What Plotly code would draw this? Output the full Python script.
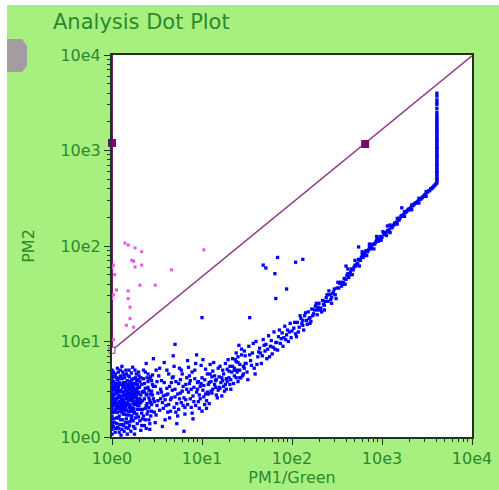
import numpy as np
import plotly.graph_objects as go

# ---------------- data (values are log10 of the measured quantities) ----------------
x_tick_vals = [1, 10, 100, 1000, 10000]
x_tick_text = ["10e0", "10e1", "10e2", "10e3", "10e4"]
y_tick_vals = [1, 10, 100, 1000, 10000]
y_tick_text = ["10e0", "10e1", "10e2", "10e3", "10e4"]

# dense population near the origin (log10 PM1, log10 PM2)
edge_col_log_y = [0.03, 0.08, 0.12, 0.15, 0.19, 0.22, 0.26, 0.29, 0.31, 0.34, 0.37, 0.40,
                  0.43, 0.45, 0.48, 0.51, 0.53, 0.56, 0.58, 0.61, 0.64, 0.67, 0.70]
core_pts = [
    (0.03, 0.45), (0.05, 0.52), (0.02, 0.33), (0.07, 0.41), (0.04, 0.28), (0.09, 0.36), (0.06, 0.60),
    (0.11, 0.48), (0.08, 0.22), (0.13, 0.39), (0.10, 0.55), (0.12, 0.30), (0.15, 0.44), (0.14, 0.62),
    (0.17, 0.35), (0.16, 0.51), (0.19, 0.42), (0.18, 0.27), (0.21, 0.47), (0.20, 0.58), (0.23, 0.38),
    (0.22, 0.31), (0.25, 0.50), (0.24, 0.43), (0.27, 0.36), (0.26, 0.56), (0.29, 0.45), (0.28, 0.29),
    (0.03, 0.15), (0.06, 0.10), (0.05, 0.20), (0.09, 0.13), (0.08, 0.05), (0.12, 0.18), (0.11, 0.08),
    (0.14, 0.24), (0.13, 0.12), (0.16, 0.19), (0.18, 0.09), (0.20, 0.16), (0.22, 0.22), (0.24, 0.11),
    (0.26, 0.20), (0.28, 0.14), (0.21, 0.06), (0.25, 0.03), (0.17, 0.03), (0.10, 0.02),
    (0.02, 0.58), (0.04, 0.66), (0.07, 0.53), (0.09, 0.63), (0.12, 0.68), (0.15, 0.57), (0.18, 0.64),
    (0.21, 0.53), (0.24, 0.61), (0.27, 0.66), (0.19, 0.70), (0.11, 0.74), (0.06, 0.72), (0.23, 0.73),
    (0.04, 0.38), (0.07, 0.30), (0.10, 0.42), (0.13, 0.47), (0.16, 0.40), (0.19, 0.50), (0.22, 0.45),
    (0.25, 0.34), (0.28, 0.40), (0.03, 0.26), (0.06, 0.47), (0.09, 0.49), (0.12, 0.36), (0.15, 0.32),
    (0.18, 0.46), (0.21, 0.39), (0.24, 0.52), (0.27, 0.48), (0.14, 0.52), (0.17, 0.59), (0.08, 0.44),
    (0.11, 0.26), (0.05, 0.40), (0.20, 0.34), (0.23, 0.27), (0.26, 0.41), (0.16, 0.28), (0.10, 0.33),
    (0.13, 0.57), (0.19, 0.55), (0.07, 0.49), (0.02, 0.50), (0.04, 0.56), (0.29, 0.52), (0.30, 0.33),
    (0.31, 0.58), (0.32, 0.44), (0.33, 0.25), (0.32, 0.07), (0.31, 0.17), (0.30, 0.64),
]
core_pts_2 = [
    (0.01, 0.41), (0.02, 0.19), (0.03, 0.63), (0.04, 0.09), (0.05, 0.35), (0.06, 0.26), (0.07, 0.68),
    (0.08, 0.57), (0.09, 0.27), (0.10, 0.64), (0.11, 0.38), (0.12, 0.52), (0.13, 0.28), (0.14, 0.43),
    (0.15, 0.15), (0.16, 0.66), (0.17, 0.47), (0.18, 0.38), (0.19, 0.23), (0.20, 0.45), (0.21, 0.29),
    (0.22, 0.60), (0.23, 0.49), (0.24, 0.35), (0.25, 0.26), (0.26, 0.62), (0.27, 0.42), (0.28, 0.51),
    (0.29, 0.36), (0.30, 0.47), (0.01, 0.26), (0.02, 0.44), (0.03, 0.36), (0.04, 0.49), (0.05, 0.62),
    (0.06, 0.33), (0.07, 0.20), (0.08, 0.37), (0.09, 0.56), (0.10, 0.48), (0.11, 0.61), (0.12, 0.43),
    (0.13, 0.33), (0.14, 0.36), (0.15, 0.49), (0.16, 0.35), (0.17, 0.42), (0.18, 0.55), (0.19, 0.31),
    (0.20, 0.41), (0.21, 0.58), (0.22, 0.38), (0.23, 0.44), (0.24, 0.30), (0.25, 0.45), (0.26, 0.34),
    (0.27, 0.55), (0.28, 0.46), (0.29, 0.60), (0.30, 0.39), (0.015, 0.11), (0.035, 0.05), (0.055, 0.14),
    (0.075, 0.09), (0.095, 0.18), (0.115, 0.13), (0.135, 0.06), (0.155, 0.10), (0.175, 0.15),
    (0.195, 0.12), (0.215, 0.19), (0.235, 0.17), (0.255, 0.09), (0.275, 0.24), (0.295, 0.21),
    (0.015, 0.68), (0.035, 0.52), (0.055, 0.56), (0.075, 0.61), (0.095, 0.70), (0.115, 0.55),
    (0.135, 0.65), (0.155, 0.70), (0.175, 0.52), (0.195, 0.63), (0.215, 0.67), (0.235, 0.56),
    (0.255, 0.70), (0.275, 0.59), (0.295, 0.68), (0.025, 0.40), (0.045, 0.31), (0.065, 0.42),
    (0.085, 0.32), (0.105, 0.39), (0.125, 0.46), (0.145, 0.30), (0.165, 0.45), (0.185, 0.34),
    (0.205, 0.51), (0.225, 0.41), (0.245, 0.47), (0.265, 0.37), (0.285, 0.33), (0.305, 0.52),
    (0.025, 0.53), (0.045, 0.46), (0.065, 0.51), (0.085, 0.48), (0.105, 0.29), (0.125, 0.24),
    (0.145, 0.55), (0.165, 0.23), (0.185, 0.50), (0.205, 0.27), (0.225, 0.55), (0.245, 0.25),
    (0.265, 0.46), (0.285, 0.55), (0.305, 0.29),
]
core_fringe = [
    (0.32, 0.36), (0.33, 0.55), (0.34, 0.29), (0.34, 0.47), (0.35, 0.61), (0.36, 0.40), (0.37, 0.18),
    (0.37, 0.51), (0.38, 0.33), (0.39, 0.45), (0.40, 0.58), (0.41, 0.31), (0.41, 0.49), (0.42, 0.38),
    (0.43, 0.63), (0.44, 0.27), (0.45, 0.44), (0.46, 0.53), (0.33, 0.12), (0.35, 0.70), (0.38, 0.09),
    (0.40, 0.66), (0.42, 0.14), (0.44, 0.59), (0.36, 0.47), (0.39, 0.24), (0.43, 0.36), (0.31, 0.40),
    (0.32, 0.62), (0.34, 0.19),
]
spread_pts = [
    (0.35, 0.48), (0.37, 0.30), (0.39, 0.62), (0.41, 0.41), (0.43, 0.22), (0.45, 0.55), (0.47, 0.37),
    (0.49, 0.70), (0.51, 0.46), (0.53, 0.28), (0.55, 0.59), (0.57, 0.43), (0.59, 0.18), (0.61, 0.51),
    (0.63, 0.66), (0.65, 0.39), (0.67, 0.49), (0.69, 0.31), (0.71, 0.58), (0.73, 0.45), (0.75, 0.72),
    (0.77, 0.36), (0.79, 0.53), (0.81, 0.24), (0.83, 0.62), (0.85, 0.47), (0.87, 0.40), (0.89, 0.68),
    (0.91, 0.52), (0.93, 0.33), (0.95, 0.57), (0.97, 0.44), (0.99, 0.75), (1.01, 0.49), (1.03, 0.60),
    (1.05, 0.38), (1.07, 0.55), (1.09, 0.66), (1.11, 0.46), (1.13, 0.78), (1.15, 0.52), (1.17, 0.41),
    (1.19, 0.63), (1.21, 0.57), (1.23, 0.70), (1.25, 0.48), (1.27, 0.61), (1.29, 0.81), (1.31, 0.55),
    (1.33, 0.68), (0.36, 0.12), (0.42, 0.08), (0.48, 0.15), (0.56, 0.11), (0.64, 0.20), (0.72, 0.14),
    (0.80, 0.06), (0.90, 0.19), (1.00, 0.27), (0.38, 0.77), (0.46, 0.82), (0.58, 0.78), (0.68, 0.85),
    (0.84, 0.80), (0.94, 0.86), (0.40, 0.52), (0.44, 0.34), (0.50, 0.58), (0.54, 0.40), (0.60, 0.33),
    (0.62, 0.45), (0.66, 0.57), (0.70, 0.42), (0.74, 0.29), (0.76, 0.60), (0.78, 0.48), (0.82, 0.39),
    (0.86, 0.56), (0.88, 0.31), (0.92, 0.61), (0.96, 0.37), (0.98, 0.53), (1.02, 0.42), (1.04, 0.71),
    (1.06, 0.47), (1.08, 0.35), (1.10, 0.58), (1.12, 0.50), (1.14, 0.64), (1.16, 0.44), (1.18, 0.72),
    (1.20, 0.51), (1.22, 0.43), (1.24, 0.66), (1.26, 0.55), (1.28, 0.71), (1.30, 0.62), (1.32, 0.50),
    (1.34, 0.74), (1.36, 0.64), (1.38, 0.79), (1.40, 0.58), (1.42, 0.70), (1.44, 0.86), (1.46, 0.66),
    (1.48, 0.77),
]
spread_pts_2 = [
    (0.34, 0.38), (0.36, 0.56), (0.38, 0.44), (0.40, 0.27), (0.42, 0.61), (0.44, 0.48), (0.46, 0.40),
    (0.48, 0.53), (0.50, 0.33), (0.52, 0.64), (0.54, 0.50), (0.56, 0.36), (0.58, 0.57), (0.60, 0.44),
    (0.62, 0.26), (0.64, 0.53), (0.66, 0.41), (0.68, 0.63), (0.70, 0.50), (0.72, 0.35), (0.74, 0.56),
    (0.76, 0.46), (0.78, 0.66), (0.80, 0.41), (0.82, 0.55), (0.84, 0.34), (0.86, 0.64), (0.88, 0.50),
    (0.90, 0.43), (0.92, 0.70), (0.94, 0.47), (0.96, 0.58), (0.98, 0.40), (1.00, 0.62), (1.02, 0.54),
    (1.04, 0.45), (1.06, 0.66), (1.08, 0.57), (1.10, 0.48), (1.12, 0.69), (1.14, 0.55), (1.16, 0.60),
    (1.18, 0.49), (1.20, 0.74), (1.22, 0.62), (1.24, 0.53), (1.26, 0.77), (1.28, 0.58), (1.30, 0.69),
    (1.32, 0.60), (1.34, 0.82), (1.36, 0.72), (1.38, 0.62), (1.40, 0.84), (1.42, 0.76),
    (0.35, 0.22), (0.39, 0.35), (0.43, 0.45), (0.47, 0.26), (0.51, 0.38), (0.55, 0.47), (0.59, 0.39),
    (0.63, 0.34), (0.67, 0.62), (0.71, 0.26), (0.75, 0.40), (0.79, 0.33), (0.83, 0.50), (0.87, 0.59),
    (0.91, 0.37), (0.95, 0.50), (0.99, 0.56), (1.03, 0.34), (1.07, 0.45), (1.11, 0.63), (1.15, 0.59),
    (1.19, 0.52), (1.23, 0.59), (1.27, 0.50), (1.31, 0.74), (1.35, 0.56), (1.39, 0.68), (1.43, 0.62),
    (1.47, 0.72), (0.37, 0.68), (0.45, 0.65), (0.53, 0.72), (0.61, 0.70), (0.69, 0.74), (0.77, 0.70),
    (0.85, 0.73), (0.93, 0.77), (1.01, 0.81), (1.09, 0.76), (0.41, 0.18), (0.49, 0.23), (0.57, 0.30),
    (0.65, 0.27), (0.73, 0.22), (0.81, 0.31), (0.89, 0.25), (0.97, 0.30), (1.05, 0.30),
]
band_pts = [
    (1.36, 0.70), (1.38, 0.88), (1.40, 0.78), (1.42, 0.62), (1.44, 0.92), (1.46, 0.74), (1.48, 0.85),
    (1.50, 0.68), (1.52, 0.95), (1.54, 0.80), (1.56, 0.88), (1.58, 0.72), (1.60, 1.00), (1.62, 0.84),
    (1.64, 0.93), (1.66, 0.77), (1.68, 1.02), (1.70, 0.90), (1.72, 0.82), (1.74, 1.06), (1.76, 0.95),
    (1.78, 0.87), (1.80, 1.10), (1.82, 0.99), (1.84, 0.91), (1.86, 1.12), (1.88, 1.03), (1.90, 0.95),
    (1.92, 1.16), (1.94, 1.07), (1.96, 1.00), (1.98, 1.19), (2.00, 1.11),
    (1.37, 0.81), (1.41, 0.96), (1.45, 0.64), (1.49, 0.77), (1.53, 0.86), (1.57, 0.98), (1.61, 0.76),
    (1.65, 0.88), (1.69, 0.96), (1.73, 0.92), (1.77, 1.01), (1.81, 0.92), (1.85, 1.05), (1.89, 1.09),
    (1.93, 1.02), (1.97, 1.10), (1.51, 0.60), (1.59, 0.66), (1.67, 0.85), (1.75, 0.84), (1.83, 0.99),
    (1.91, 1.04),
    (2.02, 1.14), (2.04, 1.08), (2.06, 1.20), (2.08, 1.15), (2.10, 1.24), (2.12, 1.17), (2.14, 1.27),
    (2.16, 1.22), (2.18, 1.31), (2.20, 1.25), (2.22, 1.34), (2.24, 1.29), (2.26, 1.37), (2.28, 1.33),
    (2.30, 1.40), (2.32, 1.35), (2.34, 1.43), (2.36, 1.38), (2.38, 1.46), (2.40, 1.42), (2.42, 1.49),
    (2.44, 1.46), (2.46, 1.52), (2.48, 1.49), (2.50, 1.56),
    (2.03, 1.20), (2.07, 1.10), (2.11, 1.19), (2.15, 1.30), (2.19, 1.24), (2.23, 1.27), (2.27, 1.40),
    (2.31, 1.33), (2.35, 1.39), (2.39, 1.49), (2.43, 1.44), (2.47, 1.55), (2.13, 1.12), (2.21, 1.21),
    (2.29, 1.36), (2.37, 1.42), (2.45, 1.50),
    (2.52, 1.56), (2.54, 1.62), (2.56, 1.60), (2.58, 1.66), (2.60, 1.65), (2.62, 1.71), (2.64, 1.70),
    (2.66, 1.76), (2.68, 1.75), (2.70, 1.80), (2.72, 1.81), (2.74, 1.86), (2.76, 1.85), (2.78, 1.91),
    (2.80, 1.90), (2.82, 1.95), (2.84, 1.94), (2.86, 1.99), (2.88, 1.98), (2.90, 2.02), (2.92, 2.02),
    (2.94, 2.06), (2.96, 2.05), (2.98, 2.10), (3.00, 2.09),
    (2.53, 1.61), (2.57, 1.62), (2.61, 1.69), (2.65, 1.73), (2.69, 1.78), (2.73, 1.82), (2.77, 1.88),
    (2.81, 1.93), (2.85, 1.96), (2.89, 2.01), (2.93, 2.04), (2.97, 2.08), (2.55, 1.58), (2.63, 1.67),
    (2.71, 1.79), (2.79, 1.88), (2.87, 1.97), (2.95, 2.07),
    (3.02, 2.12), (3.04, 2.13), (3.06, 2.16), (3.08, 2.17), (3.10, 2.20), (3.12, 2.21), (3.14, 2.24),
    (3.16, 2.25), (3.18, 2.28), (3.20, 2.29), (3.22, 2.32), (3.24, 2.33), (3.26, 2.35), (3.28, 2.37),
    (3.30, 2.39), (3.32, 2.40), (3.34, 2.42), (3.36, 2.44), (3.38, 2.45), (3.40, 2.47), (3.42, 2.49),
    (3.44, 2.50), (3.46, 2.52), (3.48, 2.54), (3.50, 2.56), (3.52, 2.58), (3.54, 2.60), (3.56, 2.61),
    (3.58, 2.63), (3.60, 2.65),
    (3.03, 2.14), (3.07, 2.15), (3.11, 2.19), (3.15, 2.23), (3.19, 2.27), (3.23, 2.31), (3.27, 2.36),
    (3.31, 2.38), (3.35, 2.43), (3.39, 2.46), (3.43, 2.49), (3.47, 2.53), (3.51, 2.57), (3.55, 2.60),
    (3.59, 2.64), (3.05, 2.11), (3.13, 2.22), (3.21, 2.31), (3.29, 2.38), (3.37, 2.45), (3.45, 2.51),
    (3.53, 2.58), (3.57, 2.62),
]
band_pts_2 = [
    (2.05, 1.05), (2.09, 1.27), (2.17, 1.18), (2.25, 1.33), (2.33, 1.31), (2.41, 1.53), (2.49, 1.45),
    (2.51, 1.62), (2.59, 1.60), (2.67, 1.70), (2.75, 1.79), (2.83, 1.90), (2.91, 1.97), (2.99, 2.06),
    (2.62, 1.76), (2.70, 1.85), (2.78, 1.94), (2.86, 2.02), (2.94, 2.10), (3.01, 2.15), (3.09, 2.22),
    (3.17, 2.29), (3.25, 2.36), (3.33, 2.43), (3.41, 2.50), (3.49, 2.57), (3.09, 2.14), (3.17, 2.23),
    (3.25, 2.31), (3.33, 2.38), (3.41, 2.45), (3.49, 2.52), (2.44, 1.40), (2.36, 1.33), (2.28, 1.28),
    (2.20, 1.19), (2.12, 1.22), (1.99, 1.04), (1.95, 1.12), (1.87, 0.98), (1.79, 0.94), (1.71, 0.97),
    (1.63, 0.89), (1.55, 0.75), (1.47, 0.90), (1.39, 0.70),
]
outlier_pts = [
    (1.84, 1.88), (1.68, 1.80), (1.71, 1.77), (2.04, 1.83), (2.12, 1.86), (1.81, 1.71), (1.94, 1.55),
    (1.82, 1.45), (1.53, 1.25), (2.60, 1.79), (2.74, 1.99), (3.06, 2.21), (3.22, 2.40), (1.00, 1.25),
    (0.70, 0.97),
]
sat_log_x = 3.61
sat_log_y = [2.66, 2.68, 2.70, 2.71, 2.73, 2.75, 2.77, 2.78, 2.80, 2.82, 2.84, 2.85, 2.87, 2.89,
             2.91, 2.93, 2.94, 2.96, 2.98, 3.00, 3.02, 3.03, 3.05, 3.07, 3.09, 3.11, 3.12, 3.14,
             3.16, 3.18, 3.20, 3.22, 3.23, 3.25, 3.27, 3.29, 3.31, 3.33, 3.35, 3.37, 3.40, 3.44,
             3.48, 3.50, 3.53, 3.57, 3.60]
pink_pts = [
    (0.144, 2.03), (0.18, 2.01), (0.256, 1.98), (0.33, 1.94), (0.22, 1.85), (0.24, 1.84), (0.256, 1.78),
    (0.33, 1.80), (0.015, 1.80), (0.03, 1.70), (0.05, 1.54), (0.015, 1.49), (0.18, 1.53), (0.18, 1.45),
    (0.20, 1.36), (0.31, 1.59), (0.48, 1.59), (0.66, 1.75), (0.20, 1.24), (0.16, 1.17), (0.24, 1.15),
    (0.015, 1.02), (1.02, 1.96), (0.0, 1.77), (0.0, 1.45),
]
# gate: diagonal line and its handles (real values)
gate_x = [1, 10000]
gate_y = [8.1, 9800]
gate_edge_x = [1, 1]
gate_edge_y = [8.1, 10000]
handle_x = [1, 650]
handle_y = [1200, 1170]

# ---------------- build ----------------
groups = [core_pts, core_pts_2, core_fringe, spread_pts, spread_pts_2, band_pts, band_pts_2, outlier_pts]
blue_lx = [0.0] * len(edge_col_log_y) + [p[0] for g in groups for p in g] + [sat_log_x] * len(sat_log_y)
blue_ly = edge_col_log_y + [p[1] for g in groups for p in g] + sat_log_y
blue_x = 10 ** np.array(blue_lx)
blue_y = 10 ** np.array(blue_ly)
pink_x = 10 ** np.array([p[0] for p in pink_pts])
pink_y = 10 ** np.array([p[1] for p in pink_pts])

GREEN_BG = "#a7f07f"
TXT = "#2b8a2b"
FRAME = "#1f3320"
PURPLE = "#8c3a84"

fig = go.Figure()
fig.add_trace(go.Scatter(x=gate_edge_x, y=gate_edge_y, mode="lines",
                         line=dict(color="#74226c", width=2), hoverinfo="skip"))
fig.add_trace(go.Scatter(x=blue_x, y=blue_y, mode="markers", cliponaxis=False,
                         marker=dict(color="#0000ff", size=3.3, symbol="square", line=dict(width=0))))
fig.add_trace(go.Scatter(x=pink_x, y=pink_y, mode="markers", cliponaxis=False,
                         marker=dict(color="#e655dc", size=3, symbol="square", line=dict(width=0))))
fig.add_trace(go.Scatter(x=gate_x, y=gate_y, mode="lines",
                         line=dict(color=PURPLE, width=1.5), hoverinfo="skip"))
fig.add_trace(go.Scatter(x=handle_x, y=handle_y, mode="markers", cliponaxis=False,
                         marker=dict(color="#7a0a6e", size=8, symbol="square", line=dict(width=0))))
fig.add_trace(go.Scatter(x=[gate_x[0]], y=[gate_y[0]], mode="markers", cliponaxis=False,
                         marker=dict(color="white", size=6, symbol="square",
                                     line=dict(color=PURPLE, width=1))))

minor_vals = [m * 10 ** d for d in range(4) for m in range(2, 10)]
axis_common = dict(
    type="log", range=[0, 4], showgrid=False, zeroline=False, automargin=False,
    showline=True, linecolor=FRAME, linewidth=2, mirror=True,
    ticks="outside", ticklen=6, tickwidth=1, tickcolor=FRAME,
    tickfont=dict(family="DejaVu Sans", size=16, color=TXT),
    minor=dict(tickmode="array", tickvals=minor_vals, ticks="outside", ticklen=3,
               tickwidth=1, tickcolor=FRAME, showgrid=False),
)
fig.update_xaxes(**axis_common, tickmode="array", tickvals=x_tick_vals, ticktext=x_tick_text,
                 title=dict(text="PM1/Green", font=dict(family="DejaVu Sans", size=16, color=TXT),
                            standoff=4))
fig.update_yaxes(**axis_common, tickmode="array", tickvals=y_tick_vals, ticktext=y_tick_text,
                 title=dict(text="PM2", font=dict(family="DejaVu Sans", size=16, color=TXT),
                            standoff=22))

# page offset: white strip of 7 px on the left and 5 px on top (set in post_script)
OX, OY = 7, 5
W, H = 499 - OX, 490 - OY
L, R, T, B = 112 - OX, 27, 55 - OY, 53
pw, ph = W - L - R, H - T - B


def px(xp):
    return (xp - OX - L) / pw


def py(yp):
    return (H - B - (yp - OY)) / ph


shapes = [
    dict(type="path", xref="paper", yref="paper", layer="above",
         path=(f"M {px(7)},{py(39)} L {px(22)},{py(39)} L {px(27)},{py(46)} L {px(27)},{py(66)} "
               f"L {px(22)},{py(72)} L {px(7)},{py(72)} Z"),
         fillcolor="#a39ca3", line=dict(width=0)),
]

fig.update_layout(
    width=W, height=H, margin=dict(l=L, r=R, t=T, b=B),
    paper_bgcolor=GREEN_BG, plot_bgcolor="white", showlegend=False,
    shapes=shapes,
    title=dict(text="Analysis Dot Plot", x=(53 - OX) / W, xanchor="left", y=1 - (22 - OY) / H,
               yanchor="middle", xref="container", yref="container",
               font=dict(family="DejaVu Sans", size=21, color=TXT)),
)

fig.write_html("out.html", config={"displayModeBar": False},
               post_script="document.body.style.margin='5px 0 0 7px';"
                           "document.body.style.overflow='hidden';")
